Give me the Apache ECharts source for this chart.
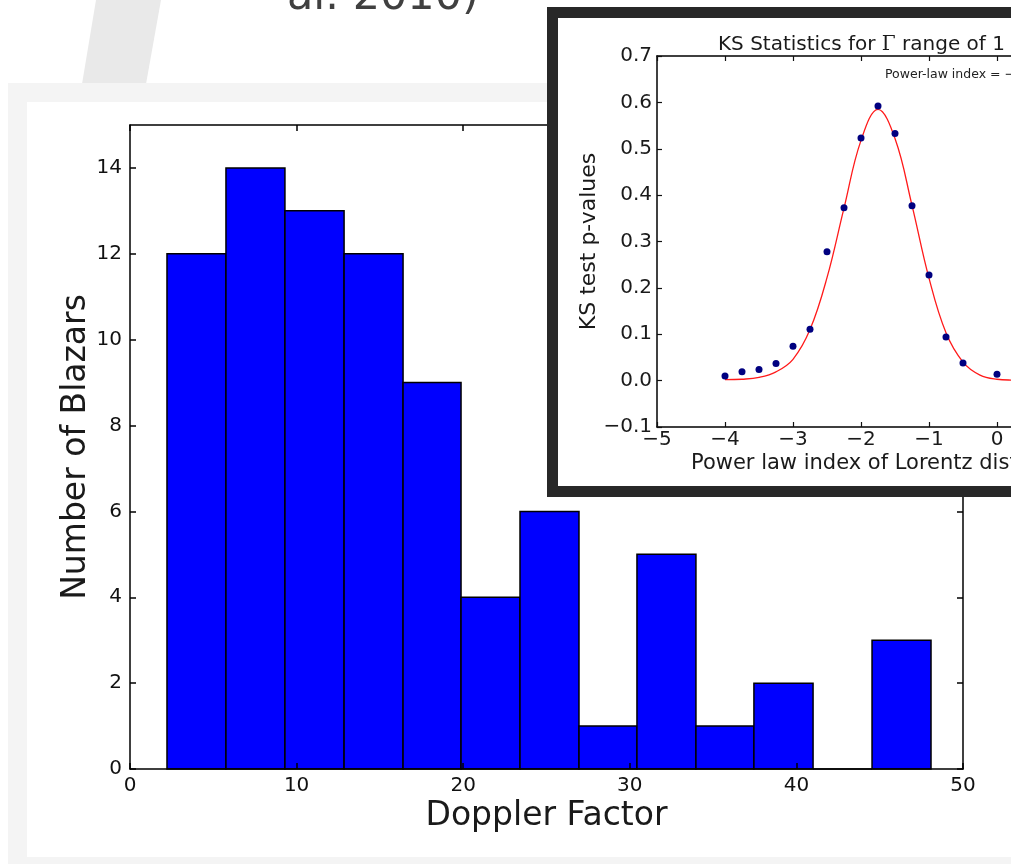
<!DOCTYPE html>
<html>
<head>
<meta charset="utf-8">
<script src="https://cdn.jsdelivr.net/npm/echarts@6/dist/echarts.min.js"></script>
<style>
  html, body { margin: 0; padding: 0; background: #fff; }
  #myChart { width: 1011px; height: 864px; }
</style>
</head>
<body>
<div id="myChart"></div>
<script>
/* 直方图 + 右上角 KS 插图 */
var fontFamily = 'DejaVu Sans';

// 主图：Doppler factor 直方图
var binEdges = [2.22, 5.76, 9.30, 12.85, 16.39, 19.87, 23.41, 26.95, 30.43, 33.97, 37.45, 41.00, 44.54, 48.08];
var blazarCounts = [12, 14, 13, 12, 9, 4, 6, 1, 5, 1, 2, 0, 3];
var mainXTicks = [0, 50, 10];   // min, max, interval
var mainYTicks = [0, 15, 2];

// 插图：KS test p 值
var ksIndex = [-4, -3.75, -3.5, -3.25, -3, -2.75, -2.5, -2.25, -2, -1.75, -1.5, -1.25, -1, -0.75, -0.5, 0];
var ksPValue = [0.010, 0.019, 0.024, 0.037, 0.074, 0.111, 0.278, 0.373, 0.523, 0.592, 0.533, 0.377, 0.228, 0.094, 0.038, 0.014];
var fitIndex = [-4, -3.75, -3.5, -3.25, -3, -2.75, -2.5, -2.25, -2, -1.75, -1.5, -1.25, -1, -0.75, -0.5, -0.25, 0, 0.25, 0.5];
var fitValue = [0.002, 0.003, 0.007, 0.019, 0.046, 0.110, 0.222, 0.372, 0.518, 0.585, 0.522, 0.378, 0.221, 0.103, 0.040, 0.012, 0.003, 0.001, 0.000];
var insetXTicks = [-5, 1, 1];
var insetYTicks = [-0.1, 0.7, 0.1];

var myChart = echarts.init(document.getElementById('myChart'));

function minus(v) {
    return String(v).replace('-', '\u2212');
}

function renderBar(params, api) {
    var p0 = api.coord([api.value(0), api.value(2)]);
    var p1 = api.coord([api.value(1), 0]);
    return {
        type: 'rect',
        shape: { x: p0[0], y: p0[1], width: p1[0] - p0[0], height: p1[1] - p0[1] },
        style: { fill: '#0000ff', stroke: '#000', lineWidth: 1.5 }
    };
}

var barData = [];
for (var i = 0; i < blazarCounts.length; i++) {
    barData.push([binEdges[i], binEdges[i + 1], blazarCounts[i]]);
}
var ksData = ksIndex.map(function (x, i) { return [x, ksPValue[i]]; });
var fitData = fitIndex.map(function (x, i) { return [x, fitValue[i]]; });

var spine = { show: true, onZero: false, lineStyle: { color: '#000', width: 1.5 } };
var mainTick = { show: true, inside: true, length: 6, lineStyle: { color: '#000', width: 1.5 } };
var insetTick = { show: true, inside: true, length: 5, lineStyle: { color: '#111', width: 1.2 } };

var option = {
    animation: false,
    backgroundColor: '#ffffff',
    title: [{
        text: 'KS Statistics for {g|\u0393} range of 1 - 50',
        left: 713, top: 30, z: 14,
        textStyle: {
            fontFamily: fontFamily, fontSize: 20, fontWeight: 'normal', color: '#1a1a1a',
            rich: { g: { fontFamily: 'DejaVu Serif', fontSize: 20, color: '#1a1a1a' } }
        }
    }, {
        text: 'Power-law index = \u22121.80',
        left: 880, top: 63, z: 14,
        textStyle: { fontFamily: fontFamily, fontSize: 12.5, fontWeight: 'normal', color: '#222' }
    }, {
        text: 'Power law index of Lorentz distribution',
        left: 686, top: 448, z: 14,
        textStyle: { fontFamily: fontFamily, fontSize: 21, fontWeight: 'normal', color: '#1a1a1a' }
    }],
    graphic: [
        // 幻灯片背景
        { type: 'polygon', z: -10, shape: { points: [[96, 0], [161, 0], [146, 84], [82, 84]] }, style: { fill: '#e9e9e9' } },
        { type: 'text', z: -10, x: 287, y: -2, style: { text: 'al. 2010)', font: '43px "DejaVu Sans"', fill: '#404040', verticalAlign: 'middle' } },
        { type: 'rect', z: -9, shape: { x: 8, y: 83, width: 1010, height: 790 }, style: { fill: '#f4f4f4' } },
        { type: 'rect', z: -8, shape: { x: 27, y: 102, width: 990, height: 755 }, style: { fill: '#ffffff' } },
        // 插图外框
        { type: 'rect', z: 10, shape: { x: 552.5, y: 12.5, width: 600, height: 479 }, style: { fill: '#ffffff', stroke: '#282828', lineWidth: 11 } }
    ],
    grid: [
        { left: 130, top: 125, width: 833, height: 644, outerBoundsMode: 'none' },
        { left: 657, top: 56, width: 408, height: 371, outerBoundsMode: 'none' }
    ],
    xAxis: [{
        gridIndex: 0, type: 'value', position: 'bottom', z: 3,
        min: mainXTicks[0], max: mainXTicks[1], interval: mainXTicks[2],
        axisLine: spine, axisTick: mainTick, splitLine: { show: false },
        axisLabel: { fontFamily: fontFamily, fontSize: 20, color: '#111', margin: 7 },
        name: 'Doppler Factor', nameLocation: 'middle', nameGap: 31, nameMoveOverlap: false,
        nameTextStyle: { fontFamily: fontFamily, fontSize: 33, color: '#1a1a1a' }
    }, {
        gridIndex: 0, type: 'value', position: 'top', z: 3,
        min: mainXTicks[0], max: mainXTicks[1], interval: mainXTicks[2],
        axisLine: spine, axisTick: mainTick, axisLabel: { show: false }, splitLine: { show: false }
    }, {
        gridIndex: 1, type: 'value', position: 'bottom', z: 11,
        min: insetXTicks[0], max: insetXTicks[1], interval: insetXTicks[2],
        axisLine: spine, axisTick: insetTick, splitLine: { show: false },
        axisLabel: { fontFamily: fontFamily, fontSize: 20, color: '#1a1a1a', margin: 3, formatter: minus }
    }, {
        gridIndex: 1, type: 'value', position: 'top', z: 11,
        min: insetXTicks[0], max: insetXTicks[1], interval: insetXTicks[2],
        axisLine: spine, axisTick: insetTick, axisLabel: { show: false }, splitLine: { show: false }
    }],
    yAxis: [{
        gridIndex: 0, type: 'value', position: 'left', z: 3,
        min: mainYTicks[0], max: mainYTicks[1], interval: mainYTicks[2],
        axisLine: spine, axisTick: mainTick, splitLine: { show: false },
        axisLabel: { fontFamily: fontFamily, fontSize: 20, color: '#111', margin: 8, showMaxLabel: false },
        name: 'Number of Blazars', nameLocation: 'middle', nameGap: 37, nameMoveOverlap: false,
        nameTextStyle: { fontFamily: fontFamily, fontSize: 33, color: '#1a1a1a' }
    }, {
        gridIndex: 0, type: 'value', position: 'right', z: 3,
        min: mainYTicks[0], max: mainYTicks[1], interval: mainYTicks[2],
        axisLine: spine, axisTick: mainTick, axisLabel: { show: false }, splitLine: { show: false }
    }, {
        gridIndex: 1, type: 'value', position: 'left', z: 11,
        min: insetYTicks[0], max: insetYTicks[1], interval: insetYTicks[2],
        axisLine: spine, axisTick: insetTick, splitLine: { show: false },
        axisLabel: {
            fontFamily: fontFamily, fontSize: 20, color: '#1a1a1a', margin: 5,
            formatter: function (v) { return minus(v.toFixed(1)); }
        },
        name: 'KS test p-values', nameLocation: 'middle', nameGap: 57, nameMoveOverlap: false,
        nameTextStyle: { fontFamily: fontFamily, fontSize: 22, color: '#1a1a1a' }
    }],
    series: [{
        name: 'blazars',
        type: 'custom',
        xAxisIndex: 0, yAxisIndex: 0, z: 2,
        renderItem: renderBar,
        encode: { x: [0, 1], y: 2 },
        data: barData
    }, {
        name: 'fit',
        type: 'line',
        xAxisIndex: 2, yAxisIndex: 2, z: 12,
        data: fitData,
        smooth: 0.4,
        showSymbol: false,
        lineStyle: { color: '#ff1a1a', width: 1.3 }
    }, {
        name: 'ks',
        type: 'scatter',
        xAxisIndex: 2, yAxisIndex: 2, z: 13,
        data: ksData,
        symbolSize: 7,
        itemStyle: { color: '#000080', opacity: 1 }
    }]
};

myChart.setOption(option);
</script>
</body>
</html>
